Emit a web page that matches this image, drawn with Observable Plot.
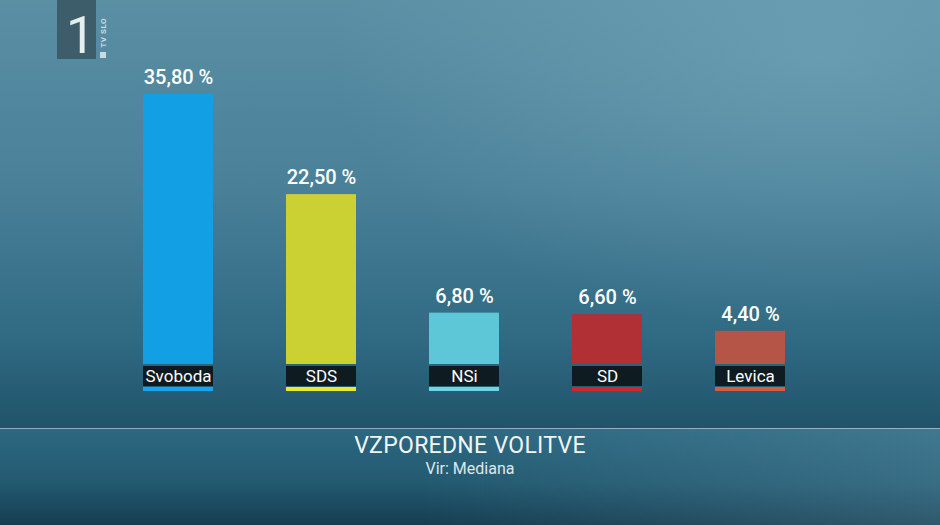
<!DOCTYPE html>
<html>
<head>
<meta charset="utf-8">
<script src="https://cdn.jsdelivr.net/npm/d3@7"></script>
<script src="https://cdn.jsdelivr.net/npm/@observablehq/plot@0.6"></script>
<style>
  html, body { margin: 0; padding: 0; }
  body { width: 940px; height: 525px; overflow: hidden; font-family: Roboto, "Noto Sans", sans-serif; }
  #frame {
    position: relative; width: 940px; height: 525px;
    background:
      radial-gradient(ellipse 700px 380px at 820px 60px, rgba(140,190,205,0.35), rgba(140,190,205,0) 70%),
      linear-gradient(180deg, #5a8fa4 0%, #4a8199 35%, #2f6982 65%, #1f5368 82%);
  }
  #logo { position: absolute; left: 57px; top: 0; width: 39px; height: 59px; background: #3d5d6b; }
  #logo span { position: absolute; left: 9px; top: 14px; color: #e6eef0; font-size: 52px; line-height: 44px; font-weight: 400; font-family: Roboto, sans-serif; }
  #tvslo { position: absolute; left: 100px; top: 18px; color: #c9dbe1; font-size: 8px; writing-mode: vertical-rl; transform: rotate(180deg); font-weight: 700; letter-spacing: 0.5px; line-height: 8px; }
  #tvslo-box { position: absolute; left: 100px; top: 52px; width: 6px; height: 6px; background: #c9dbe1; }
  #chart { position: absolute; left: 0; top: 0; }
  #band {
    position: absolute; left: 0; top: 428px; width: 940px; height: 97px;
    border-top: 1px solid rgba(170,205,215,0.8);
    background:
      linear-gradient(90deg, rgba(0,0,0,0) 45%, rgba(120,170,190,0.25) 100%),
      linear-gradient(180deg, #2c6880 0%, #235a71 55%, #163d4f 100%);
    text-align: center; color: #f2f6f7;
  }
  #title { font-size: 23px; margin-top: 3px; letter-spacing: 0.3px; }
  #source { font-size: 16px; margin-top: 0px; color: #dde8eb; }
</style>
</head>
<body>
<div id="frame">
  <div id="chart"></div>
  <div id="logo"><span>1</span></div>
  <div id="tvslo">TV SLO</div>
  <div id="tvslo-box"></div>
  <div id="band">
    <div id="title">VZPOREDNE VOLITVE</div>
    <div id="source">Vir: Mediana</div>
  </div>
</div>
<script>
const parties = ["Svoboda", "SDS", "NSi", "SD", "Levica"];
const values = [35.80, 22.50, 6.80, 6.60, 4.40];
const barColors = ["#129fe4", "#cbd033", "#5ec7d7", "#b03036", "#b45548"];
const stripColors = ["#16a6ef", "#e9ea2a", "#6dd5e6", "#d2262c", "#d65b40"];

const data = parties.map((p, i) => ({
  party: p, value: values[i], color: barColors[i], strip: stripColors[i],
  label: values[i].toFixed(2).replace(".", ",") + " %"
}));

const chart = Plot.plot({
  width: 940,
  height: 428,
  marginLeft: 70,
  marginRight: 82,
  marginTop: 62,
  marginBottom: 64,
  x: { domain: parties, padding: 0.51, axis: null },
  y: { domain: [0, 40], axis: null },
  style: { background: "transparent", fontFamily: "Roboto, 'Noto Sans', sans-serif", overflow: "visible" },
  marks: [
    Plot.barY(data, { x: "party", y: "value", fill: "color" }),
    Plot.barY(data, { x: "party", y1: 0, y2: 0, insetTop: 2, insetBottom: -22, fill: "#0e1b21" }),
    Plot.barY(data, { x: "party", y1: 0, y2: 0, insetTop: 23, insetBottom: -27, fill: "strip" }),
    Plot.text(data, { x: "party", y: 0, dy: 12, text: "party", fill: "white", fontSize: 17 }),
    Plot.text(data, { x: "party", y: "value", dy: -17, text: "label", fill: "white", fontSize: 20, fontWeight: 500 })
  ]
});
document.getElementById("chart").appendChild(chart);
</script>
</body>
</html>
